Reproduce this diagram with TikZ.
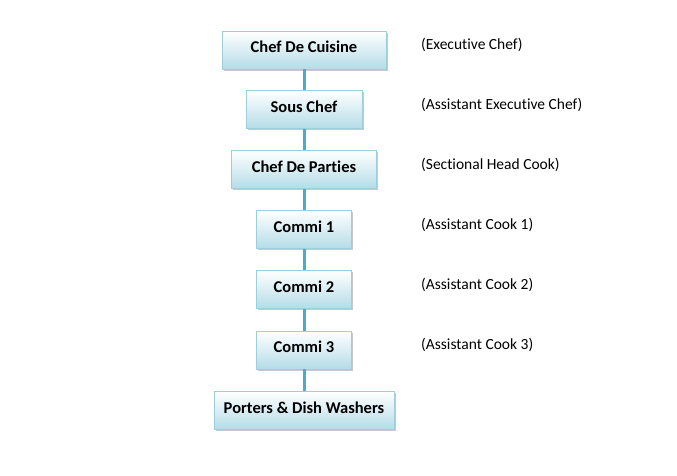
\documentclass[tikz,border=0pt]{standalone}
\usepackage{fontspec}
\setmainfont[Ligatures={NoCommon}]{Carlito}
\usetikzlibrary{shadows}
\definecolor{linkblue}{HTML}{4BACC6}
\definecolor{boxedge}{HTML}{9CCFDD}
\definecolor{boxfill}{HTML}{B4DCE7}
\tikzset{
  chefbox/.style={draw=boxedge, line width=0.6pt, top color=white, bottom color=boxfill,
    minimum height=38pt, inner sep=0pt, text height=11pt, text depth=6pt,
    font=\bfseries\fontsize{16.5}{19}\selectfont,
    drop shadow={shadow xshift=1.6pt, shadow yshift=-1.8pt, fill=black!35, opacity=0.6}},
  rolelabel/.style={anchor=west, inner sep=0pt, font=\fontsize{15.5}{18}\selectfont},
  link/.style={draw=linkblue, line width=3pt}
}
\begin{document}
\begin{tikzpicture}[x=1pt,y=-1pt]
\useasboundingbox [fill=white] (0,0) rectangle (677,475);
% the brigade, top to bottom
\node [chefbox, minimum width=164pt] (cuisine) at (304,50) {Chef De Cuisine};
\node [chefbox, minimum width=116pt] (sous) at (304,109.5) {Sous Chef};
\node [chefbox, minimum width=145pt] (parties) at (304,169.5) {Chef De Parties};
\node [chefbox, minimum width=95pt] (commi1) at (304,229.5) {Commi 1};
\node [chefbox, minimum width=95pt] (commi2) at (304,289.5) {Commi 2};
\node [chefbox, minimum width=95pt] (commi3) at (304,350) {Commi 3};
\node [chefbox, minimum width=180pt] (porters) at (304,410.5) {Porters \& Dish Washers};
\draw [link] (cuisine) -- (sous);
\draw [link] (sous) -- (parties);
\draw [link] (parties) -- (commi1);
\draw [link] (commi1) -- (commi2);
\draw [link] (commi2) -- (commi3);
\draw [link] (commi3) -- (porters);
% titles on the right
\node [rolelabel] (execlabel) at (421,45) {(Executive Chef)};
\node [rolelabel] (souslabel) at (421,105) {(Assistant Executive Chef)};
\node [rolelabel] (partieslabel) at (421,165) {(Sectional Head Cook)};
\node [rolelabel] (commi1label) at (421,225) {(Assistant Cook 1)};
\node [rolelabel] (commi2label) at (421,285) {(Assistant Cook 2)};
\node [rolelabel] (commi3label) at (421,345) {(Assistant Cook 3)};
\end{tikzpicture}
\end{document}
